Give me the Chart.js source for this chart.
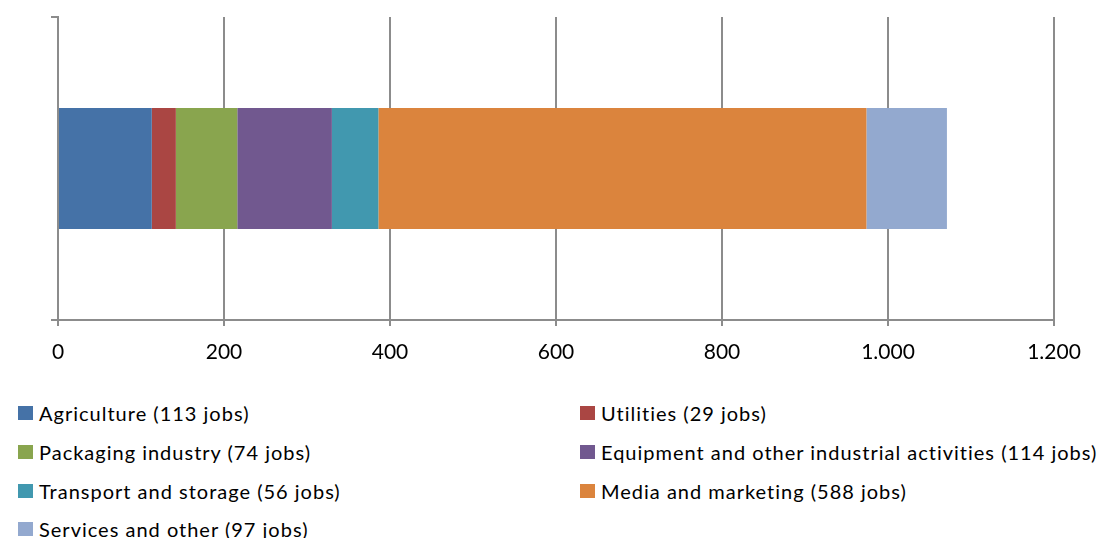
<!DOCTYPE html>
<html>
<head>
<meta charset="utf-8">
<script src="https://cdn.jsdelivr.net/npm/chart.js@4"></script>
<style>
  body { margin: 0; background: #fff; }
  #wrap { position: relative; width: 1103px; height: 538px; }
  #chart-box { position: absolute; left: 0; top: 0; width: 1103px; height: 370px; }
  #legend { position: absolute; left: 0; top: 0; width: 1103px; font-family: Lato, sans-serif; font-size: 20px; letter-spacing: 1px; color: #000; }
  .item { position: absolute; display: flex; align-items: center; white-space: nowrap; }
  .box { width: 15px; height: 14px; margin-right: 6px; }
</style>
</head>
<body>
<div id="wrap">
  <div id="chart-box"><canvas id="myChart"></canvas></div>
  <div id="legend"></div>
</div>
<script>
// sectors and jobs
const sectors = ['Agriculture', 'Utilities', 'Packaging industry', 'Equipment and other industrial activities',
                 'Transport and storage', 'Media and marketing', 'Services and other'];
const jobs = [113, 29, 74, 114, 56, 588, 97];
const colors = ['#4572A7', '#AA4643', '#89A54E', '#71588F', '#4198AF', '#DB843D', '#93A9CF'];
const xTicks = [0, 200, 400, 600, 800, 1000, 1200];

const gridColor = '#8c8c8c';

function fmt(v) {
  return String(v).replace(/\B(?=(\d{3})+(?!\d))/g, '.');
}

const datasets = sectors.map((name, i) => ({
  label: name + ' (' + jobs[i] + ' jobs)',
  data: [jobs[i]],
  backgroundColor: colors[i],
  borderWidth: 0,
  barPercentage: 0.4,
  categoryPercentage: 1
}));

const ctx = document.getElementById('myChart').getContext('2d');
new Chart(ctx, {
  type: 'bar',
  data: { labels: [''], datasets: datasets },
  options: {
    indexAxis: 'y',
    responsive: true,
    maintainAspectRatio: false,
    animation: false,
    layout: { padding: { top: 17, right: 49, left: 0, bottom: 0 } },
    plugins: { legend: { display: false }, tooltip: { enabled: false } },
    scales: {
      x: {
        stacked: true,
        min: 0,
        max: 1200,
        afterBuildTicks: (s) => { s.ticks = xTicks.map(v => ({ value: v })); },
        ticks: {
          callback: (v) => fmt(v),
          color: '#000',
          padding: 14,
          maxRotation: 0,
          font: { family: 'Lato', size: 21 }
        },
        grid: { color: gridColor, lineWidth: 2, tickLength: 6 },
        border: { color: gridColor, width: 2 },
        afterFit: (s) => { s.height = 50; }
      },
      y: {
        stacked: true,
        ticks: { display: false },
        grid: { offset: true, drawOnChartArea: false, color: gridColor, lineWidth: 2, tickLength: 7 },
        border: { color: gridColor, width: 2 },
        afterFit: (s) => { s.width = 58; }
      }
    }
  }
});

// two-column legend under the chart
const legend = document.getElementById('legend');
const colX = [18, 580];
const rowY = [413, 452, 491, 529];
datasets.forEach((ds, i) => {
  const el = document.createElement('div');
  el.className = 'item';
  el.style.left = colX[i % 2] + 'px';
  el.style.top = (rowY[Math.floor(i / 2)] - 12) + 'px';
  el.innerHTML = '<span class="box" style="background:' + ds.backgroundColor + '"></span><span>' + ds.label + '</span>';
  legend.appendChild(el);
});
</script>
</body>
</html>
